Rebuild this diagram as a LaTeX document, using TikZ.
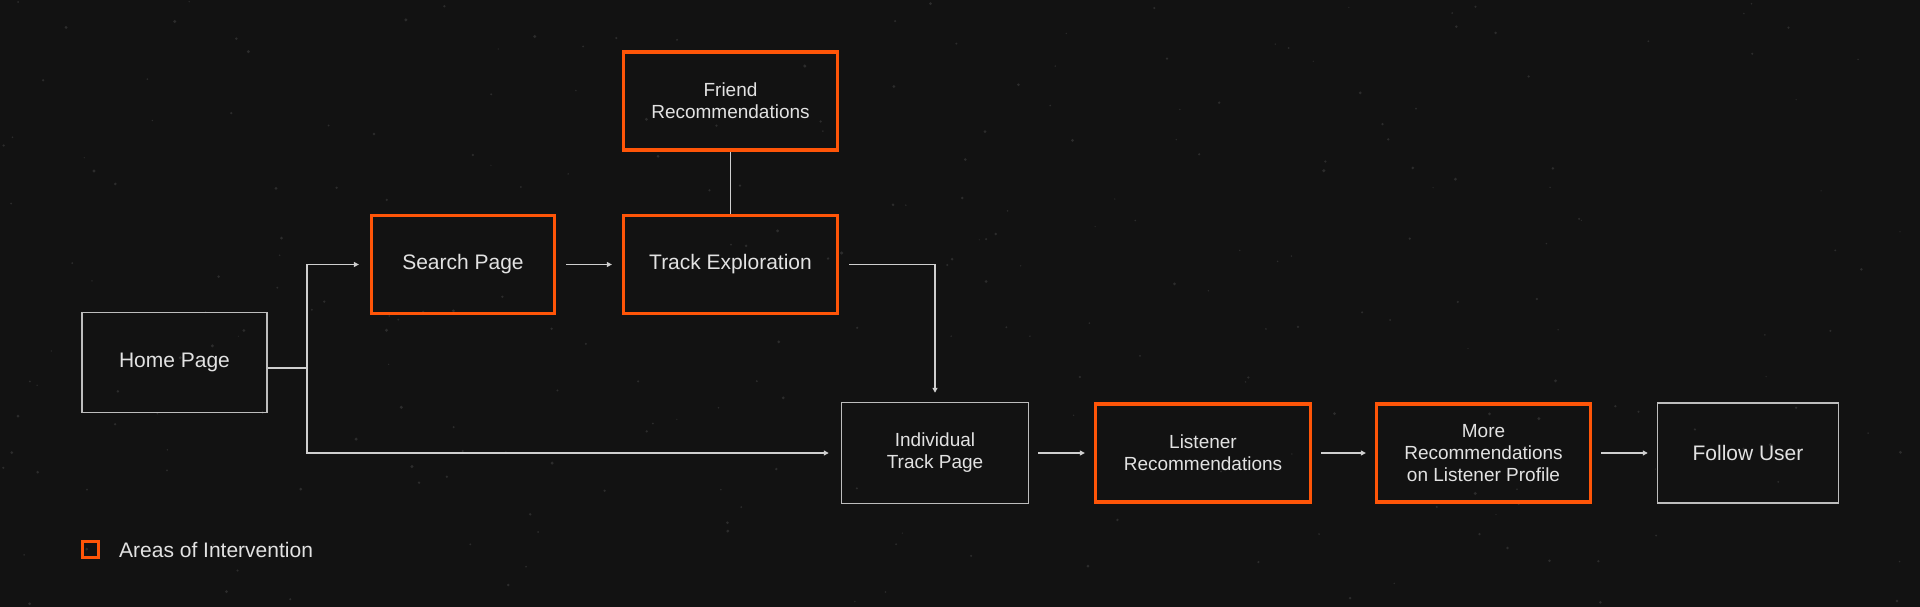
\documentclass[tikz,border=0pt]{standalone}
\usepackage{fontspec}
\setmainfont{Liberation Sans}
\usepackage{xcolor}
\usepackage{tikz}
\usetikzlibrary{positioning, arrows.meta}

\definecolor{bg}{HTML}{121212}
\definecolor{grain}{HTML}{2C2C2C}
\definecolor{accent}{HTML}{FF5508}
\definecolor{edgegray}{HTML}{BDBDBD}
\definecolor{linegray}{HTML}{CFCFCF}
\definecolor{txt}{HTML}{E2E2E2}

\tikzset{
  page/.style={draw=edgegray, line width=1.5pt, text=txt, align=center,
    inner sep=0pt, minimum height=100pt, font=\fontsize{21}{25}\selectfont},
  twoline/.style={font=\fontsize{19}{22}\selectfont},
  focus/.style={page, draw=accent, line width=3.3pt, minimum height=98pt},
  link/.style={draw=linegray, line width=1.5pt},
  flow/.style={link, -{Triangle[length=5pt,width=5pt]}},
}

\begin{document}
\begin{tikzpicture}[x=1pt, y=-1pt, node distance=100pt, on grid]
  \fill[bg] (0,0) rectangle (1920,607);
  \useasboundingbox (0,0) rectangle (1920,607);

  % background grain
  \pgfmathsetseed{11}
  \foreach \i in {1,...,260} {
    \fill[grain] ({1920*rnd},{607*rnd}) circle ({0.6+1.1*rnd});
  }

  % pages
  \node[page, minimum width=185pt] (home) at (174.5,362.5) {Home Page};
  \node[focus, minimum width=214pt] (track) at (730.5,264.5) {Track Exploration};
  \node[focus, minimum width=183pt] (search) [left=267.5pt of track] {Search Page};
  \node[focus, twoline, minimum width=214pt] (friend) [above=163.5pt of track] {Friend\\Recommendations};
  \node[page, twoline, minimum width=187pt, minimum height=101pt] (indiv) at (935,453) {Individual\\Track Page};
  \node[focus, twoline, minimum width=215pt] (listener) [right=268pt of indiv] {Listener\\Recommendations};
  \node[focus, twoline, minimum width=214pt] (more) [right=280.5pt of listener] {More\\Recommendations\\on Listener Profile};
  \node[page, minimum width=181pt] (follow) [right=264.5pt of more] {Follow User};

  % connectors
  \coordinate (split) at (307,368);
  \draw[link] (home.east |- split) -- (split);
  \draw[flow, shorten >=11pt] (split) |- (search.west);
  \draw[flow, shorten >=12pt] (split) |- (indiv.west);
  \draw[flow, shorten <=10pt, shorten >=10pt] (search) -- (track);
  \draw[link] (friend) -- (track);
  \draw[flow, shorten <=10pt, shorten >=9pt] (track.east) -| (indiv.north);
  \draw[flow, shorten <=9pt, shorten >=9pt] (indiv) -- (listener);
  \draw[flow, shorten <=9pt, shorten >=9pt] (listener) -- (more);
  \draw[flow, shorten <=9pt, shorten >=9pt] (more) -- (follow);

  % legend
  \node[draw=accent, line width=2.7pt, minimum size=16pt, inner sep=0pt] (key) at (90.5,549.5) {};
  \node[anchor=west, text=txt, inner sep=0pt, font=\fontsize{21}{25}\selectfont] (keytext) at (119,550) {Areas of Intervention};
\end{tikzpicture}
\end{document}
